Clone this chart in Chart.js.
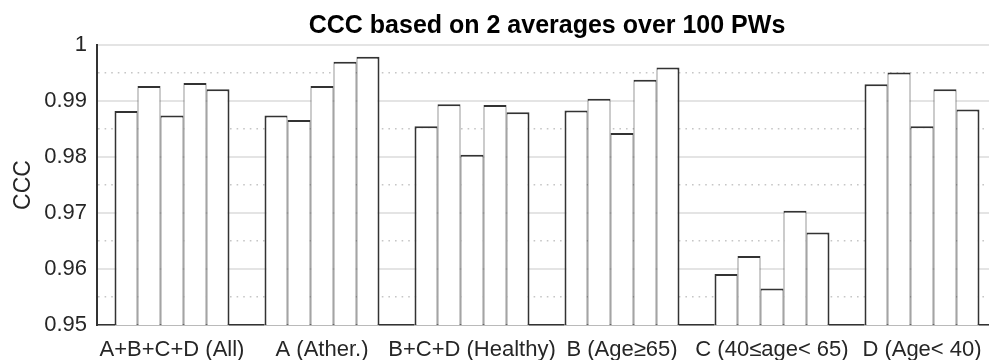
<!DOCTYPE html>
<html lang="en">
<head>
<meta charset="UTF-8">
<title>CCC based on 2 averages over 100 PWs</title>
<style>
  html, body { margin: 0; padding: 0; overflow: hidden; background: #fff; }
  #cccChart { display: block; }
</style>
</head>
<body>
<canvas id="cccChart" width="1000" height="360"></canvas>

<script src="https://cdn.jsdelivr.net/npm/chart.js@4.4.1/dist/chart.umd.min.js"></script>
<script>
// subject groups on the x axis
var groups = ['A+B+C+D (All)', 'A (Ather.)', 'B+C+D (Healthy)', 'B (Age\u226565)', 'C (40\u2264age< 65)', 'D (Age< 40)'];

// CCC per group, one array per bar position inside a group
var bar1 = [0.9882, 0.9874, 0.9855, 0.9883, 0.9591, 0.9930];
var bar2 = [0.9927, 0.9866, 0.9894, 0.9904, 0.9623, 0.9951];
var bar3 = [0.9874, 0.9927, 0.9804, 0.9843, 0.9565, 0.9855];
var bar4 = [0.9932, 0.9970, 0.9893, 0.9938, 0.9704, 0.9921];
var bar5 = [0.9921, 0.9979, 0.9880, 0.9960, 0.9665, 0.9885];

// labelled y ticks; a dotted minor line sits halfway between each pair
var yTicks = [0.95, 0.96, 0.97, 0.98, 0.99, 1];

var FONT = 'Liberation Sans, Arial, Helvetica, sans-serif';
var EDGE = '#333333';
var GROUP_FILL = 115 / 150;   // share of a category taken by its bars

function isMajor(v) {
    return yTicks.some(function (t) { return Math.abs(t - v) < 1e-6; });
}

function makeSet(values, i, n) {
    // neighbouring bars share an edge, so split the inner edges in half
    return {
        data: values,
        backgroundColor: '#ffffff',
        borderColor: EDGE,
        borderWidth: {
            top: 2,
            left: i === 0 ? 2 : 1,
            right: i === n - 1 ? 2 : 1,
            bottom: 0
        },
        borderSkipped: 'start',
        inflateAmount: 0,
        categoryPercentage: GROUP_FILL,
        barPercentage: 1.0
    };
}

// baseline: dark in the gaps between groups, light grey under the bars
function baselineColor(c) {
    var chart = c.chart;
    var area = chart.chartArea;
    var xs = chart.scales && chart.scales.x;
    if (!area || !xs) return EDGE;
    var span = area.right - area.left;
    var half = xs.width / groups.length * GROUP_FILL / 2;
    var g = chart.ctx.createLinearGradient(area.left, 0, area.right, 0);
    g.addColorStop(0, EDGE);
    for (var i = 0; i < groups.length; i++) {
        var mid = xs.getPixelForValue(i);
        var a = Math.max(0, Math.min(1, (mid - half - area.left) / span));
        var b = Math.max(0, Math.min(1, (mid + half - area.left) / span));
        g.addColorStop(a, EDGE);
        g.addColorStop(a, '#909090');
        g.addColorStop(b, '#909090');
        g.addColorStop(b, EDGE);
    }
    g.addColorStop(1, EDGE);
    return g;
}

var series = [bar1, bar2, bar3, bar4, bar5];

var ctx = document.getElementById('cccChart').getContext('2d');
var cccChart = new Chart(ctx, {
    type: 'bar',
    data: {
        labels: groups,
        datasets: series.map(function (s, i) { return makeSet(s, i, series.length); })
    },
    options: {
        responsive: false,
        animation: false,
        layout: { padding: { left: 0, right: 3, top: 0, bottom: 0 } },
        plugins: {
            legend: { display: false },
            tooltip: { enabled: false },
            title: {
                display: true,
                fullSize: false,
                text: 'CCC based on 2 averages over 100 PWs',
                color: '#000',
                font: { family: FONT, size: 25, weight: 'bold', lineHeight: 1.2 },
                padding: { top: 11, bottom: 4 }
            }
        },
        scales: {
            x: {
                grid: { display: false },
                border: { display: true, color: baselineColor, width: 1.6 },
                ticks: {
                    color: '#262626',
                    font: { family: FONT, size: 22, lineHeight: 1 },
                    padding: 6,
                    maxRotation: 0,
                    autoSkip: false
                },
                afterFit: function (s) { s.height = 35; }
            },
            y: {
                min: 0.95,
                max: 1,
                afterBuildTicks: function (s) {
                    var t = [];
                    for (var i = 0; i < yTicks.length; i++) {
                        t.push({ value: yTicks[i] });
                        if (i < yTicks.length - 1) t.push({ value: (yTicks[i] + yTicks[i + 1]) / 2 });
                    }
                    s.ticks = t;
                },
                grid: {
                    drawTicks: false,
                    color: function (c) { return c.tick && isMajor(c.tick.value) ? '#e4e4e4' : '#c6c6c6'; },
                    lineWidth: function (c) { return c.tick && isMajor(c.tick.value) ? 2 : 1.6; }
                },
                border: {
                    display: true,
                    color: EDGE,
                    width: 2,
                    dash: function (c) { return c.tick && !isMajor(c.tick.value) ? [1.6, 5] : []; }
                },
                ticks: {
                    color: '#262626',
                    padding: 10,
                    autoSkip: false,
                    font: { family: FONT, size: 22 },
                    callback: function (v) { return isMajor(v) ? String(Number(v.toFixed(2))) : ''; }
                },
                title: {
                    display: true,
                    text: 'CCC',
                    color: '#262626',
                    font: { family: FONT, size: 23, lineHeight: 1.2 },
                    padding: { top: 10, bottom: 0 }
                },
                afterFit: function (s) { s.width = 97; }
            }
        }
    }
});
</script>
</body>
</html>
